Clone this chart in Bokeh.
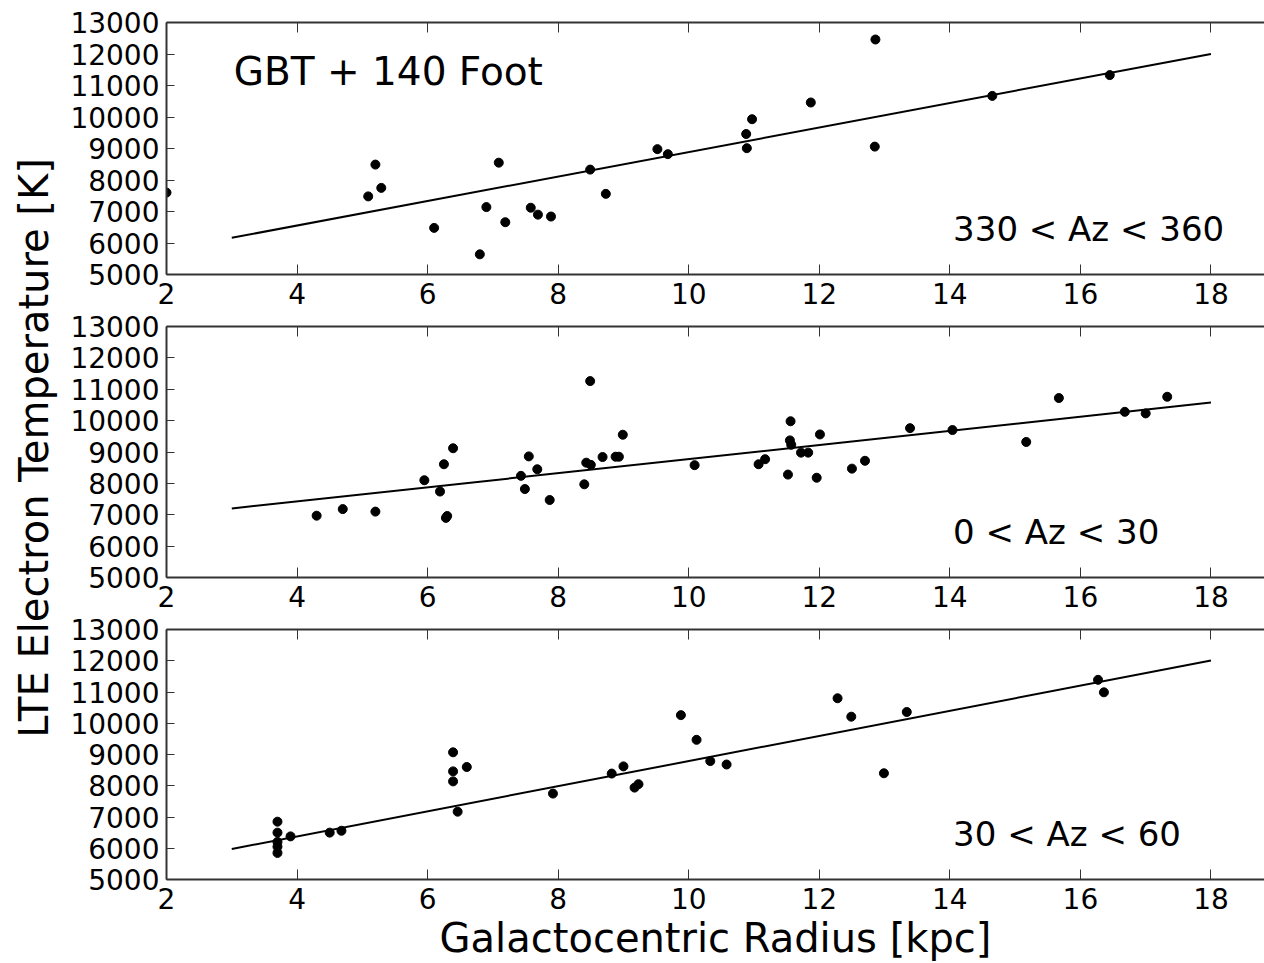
import math
from bokeh.plotting import figure
from bokeh.models import Range1d, FixedTicker, LinearAxis, Label
from bokeh.layouts import row, column
from bokeh.embed import file_html
from bokeh.resources import INLINE

FONT = "DejaVu Sans"

# ---- data (Galactocentric radius [kpc], LTE electron temperature [K]) ----
# Panel 1: 330 < Az < 360
r1 = [2.00, 5.09, 5.20, 5.29, 6.10, 6.80, 6.90, 7.09, 7.19, 7.58, 7.69, 7.89,
      8.49, 8.73, 9.52, 9.68, 10.88, 10.89, 10.97, 11.87, 12.85, 12.86, 14.65, 16.45]
t1 = [7600, 7480, 8490, 7750, 6480, 5640, 7140, 8550, 6660, 7120, 6900, 6840,
      8330, 7560, 8980, 8820, 9460, 9010, 9930, 10460, 9060, 12460, 10670, 11330]

# Panel 2: 0 < Az < 30
r2 = [4.30, 4.70, 5.20, 5.95, 6.19, 6.25, 6.28, 6.30, 6.39, 7.43, 7.49, 7.55,
      7.68, 7.87, 8.40, 8.43, 8.49, 8.50, 8.68, 8.88, 8.93, 8.99, 10.09, 11.07,
      11.17, 11.52, 11.55, 11.56, 11.57, 11.72, 11.83, 11.96, 12.01, 12.50, 12.70,
      13.39, 14.04, 15.17, 15.67, 16.68, 17.00, 17.33]
t2 = [6970, 7180, 7100, 8100, 7740, 8610, 6900, 6960, 9120, 8240, 7820, 8860,
      8450, 7470, 7970, 8660, 11260, 8590, 8840, 8850, 8850, 9550, 8580, 8610,
      8770, 8280, 9370, 9980, 9230, 8980, 8980, 8180, 9560, 8470, 8720,
      9760, 9700, 9320, 10720, 10280, 10230, 10760]

# Panel 3: 30 < Az < 60
r3 = [3.70, 3.70, 3.70, 3.70, 3.70, 3.90, 4.50, 4.68, 6.39, 6.39, 6.39, 6.46,
      6.60, 7.92, 8.82, 9.00, 9.17, 9.23, 9.88, 10.12, 10.33, 10.58, 12.28, 12.49,
      12.99, 13.34, 16.27, 16.36]
t3 = [6850, 6500, 6200, 6050, 5850, 6380, 6500, 6560, 9070, 8460, 8140, 7170,
      8600, 7750, 8390, 8620, 7940, 8050, 10260, 9470, 8790, 8680, 10800, 10210,
      8400, 10360, 11390, 10990]

# linear fits  T = intercept + slope * R, drawn over fit_range
fit_slope = [389, 225, 402]
fit_intercept = [4998, 6525, 4770]
fit_range = [3, 18]

panel_labels = ["330 < Az < 360", "0 < Az < 30", "30 < Az < 60"]
x_ticks = [2, 4, 6, 8, 10, 12, 14, 16, 18, 20]
y_ticks = [5000, 6000, 7000, 8000, 9000, 10000, 11000, 12000, 13000]

XMIN, XMAX = 2, 18.82
YMIN, YMAX = 5000, 13000
SPINE = "#333333"
TICK_FONT = "28px"


def style_axis(ax, show_labels, tick_in):
    ax.axis_line_color = SPINE
    ax.axis_line_width = 2
    ax.major_tick_line_color = SPINE
    ax.major_tick_line_width = 1
    ax.major_tick_in = tick_in
    ax.major_tick_out = 0
    ax.minor_tick_line_color = None
    if show_labels:
        ax.major_label_text_font = FONT
        ax.major_label_text_font_size = TICK_FONT
        ax.major_label_text_color = "black"
    else:
        ax.major_label_text_font_size = "1px"
        ax.major_label_text_color = None
        ax.major_label_standoff = 0


def make_panel(r, t, k, height, top, bottom, xstandoff, margin_top=0, xlabel=None):
    p = figure(width=1206, height=height,
               x_range=Range1d(XMIN, XMAX), y_range=Range1d(YMIN, YMAX),
               output_backend="svg", toolbar_location=None,
               min_border_left=108, min_border_right=0,
               min_border_top=top, min_border_bottom=bottom,
               outline_line_color=None,
               background_fill_color=None, border_fill_color=None,
               margin=(margin_top, 0, 0, 0))
    p.grid.visible = False

    xb = p.below[0]
    yl = p.left[0]
    xb.ticker = FixedTicker(ticks=x_ticks)
    yl.ticker = FixedTicker(ticks=y_ticks)
    style_axis(xb, True, 10)
    style_axis(yl, True, 8)
    xb.major_label_standoff = xstandoff
    yl.major_label_standoff = 7

    if xlabel:
        xb.axis_label = xlabel
        xb.axis_label_text_font = FONT
        xb.axis_label_text_font_size = "40px"
        xb.axis_label_text_font_style = "normal"
        xb.axis_label_text_color = "black"
        xb.axis_label_standoff = 3

    top_ax = LinearAxis(ticker=FixedTicker(ticks=x_ticks))
    style_axis(top_ax, False, 10)
    p.add_layout(top_ax, "above")

    xs = fit_range
    ys = [fit_intercept[k] + fit_slope[k] * x for x in xs]
    p.line(xs, ys, line_color="black", line_width=2)
    p.scatter(r, t, size=9, color="black")

    p.add_layout(Label(x=14.05, y=6450, text=panel_labels[k],
                       text_font=FONT, text_font_size="34px",
                       text_color="black", text_baseline="alphabetic"))
    return p


p1 = make_panel(r1, t1, 0, 320, 22, 46, 8)
p1.add_layout(Label(x=3.03, y=11450, text="GBT + 140 Foot",
                    text_font=FONT, text_font_size="39px",
                    text_color="black", text_baseline="alphabetic"))
p2 = make_panel(r2, t2, 1, 317, 20, 46, 8, margin_top=-14)
p3 = make_panel(r3, t3, 2, 354, 20, 83, 8, margin_top=-14,
                xlabel="Galactocentric Radius [kpc]")

TOTAL_H = 963
yfig = figure(width=58, height=TOTAL_H, x_range=Range1d(0, 1), y_range=Range1d(0, 1),
              output_backend="svg", toolbar_location=None, min_border=0,
              outline_line_color=None, x_axis_location=None, y_axis_location=None,
              background_fill_color=None, border_fill_color=None)
yfig.grid.visible = False
yfig.add_layout(Label(x=33, y=TOTAL_H - 447.5, x_units="screen", y_units="screen",
                      text="LTE Electron Temperature [K]", angle=math.pi / 2,
                      text_align="center", text_baseline="middle",
                      text_font=FONT, text_font_size="40px", text_color="black"))

layout = row(yfig, column(p1, p2, p3))

with open("out.html", "w") as f:
    f.write(file_html(layout, INLINE))
